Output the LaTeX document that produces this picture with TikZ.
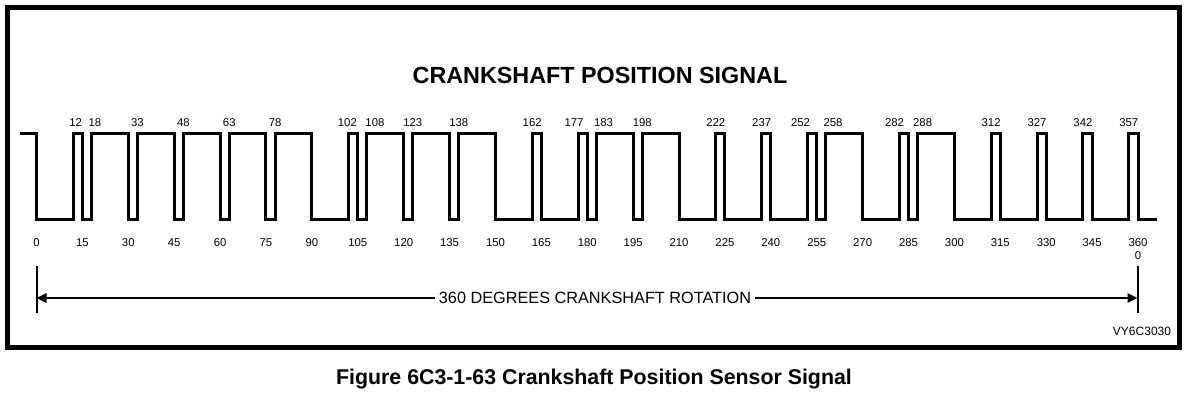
\documentclass[tikz,border=0pt]{standalone}
\usepackage{fontspec}
\setmainfont{Liberation Sans}
\usetikzlibrary{arrows.meta}
\begin{document}
\begin{tikzpicture}[x=0.75pt,y=-0.75pt,
  frame/.style={line width=3.75pt},
  signal/.style={line width=2.25pt,line join=miter},
  toplbl/.style={font=\fontsize{8.5pt}{9pt}\selectfont,inner sep=0pt},
  botlbl/.style={font=\fontsize{8.5pt}{9pt}\selectfont,inner sep=0pt},
  dimline/.style={line width=1.5pt,-{Triangle[length=7.5pt,width=7pt]}},
  tickline/.style={line width=1.5pt}]
\useasboundingbox (0,0) rectangle (1200,414);
\draw[frame] (7,7.5) rectangle (1179.5,347);
\node[font=\bfseries\fontsize{17.5pt}{18pt}\selectfont,inner sep=0pt] (title) at (600,75) {CRANKSHAFT POSITION SIGNAL};
% waveform, x in degrees
\begin{scope}[shift={(36.5,0)},x=2.2948pt]
\draw[signal] (-5.4,133) -| (0,219) -| (12,133) -| (15,219) -| (18,133)
  -| (30,219) -| (33,133) -| (45,219) -| (48,133) -| (60,219) -| (63,133)
  -| (75,219) -| (78,133) -| (90,219) -| (102,133) -| (105,219) -| (108,133)
  -| (120,219) -| (123,133) -| (135,219) -| (138,133) -| (150,219) -| (162,133)
  -| (165,219) -| (177,133) -| (180,219) -| (183,133) -| (195,219) -| (198,133)
  -| (210,219) -| (222,133) -| (225,219) -| (237,133) -| (240,219) -| (252,133)
  -| (255,219) -| (258,133) -| (270,219) -| (282,133) -| (285,219) -| (288,133)
  -| (300,219) -| (312,133) -| (315,219) -| (327,133) -| (330,219) -| (342,133)
  -| (345,219) -| (357,133) -| (360,219) -- (366.2,219);
\foreach \d/\o in {12/0.8,18/1.1,33/0,48/0,63/0,78/0,102/-0.4,108/2.6,123/0,138/0,162/0,177/-1.3,183/2.3,198/0,222/0,237/0,252/-2.3,258/2.3,282/-1.6,288/1.6,312/0,327/0,342/0,357/0}
  \node[toplbl] (t\d) at (\d+\o,123) {\d};
\foreach \d in {0,15,...,360}
  \node[botlbl] (b\d) at (\d,243) {\d};
\node[botlbl] (bzero) at (360,256) {0};
\end{scope}
% rotation dimension
\coordinate (L) at (36.5,298);
\coordinate (R) at (1137.5,298);
\coordinate (Lt) at (36.5,266);
\coordinate (Lb) at (36.5,313);
\coordinate (Rt) at (1137.5,266);
\coordinate (Rb) at (1137.5,313);
\draw[tickline] (Lt) -- (Lb);
\draw[tickline] (Rt) -- (Rb);
\node[font=\fontsize{12.2pt}{13pt}\selectfont,fill=white,inner sep=3pt] (rot) at (595,298) {360 DEGREES CRANKSHAFT ROTATION};
\draw[dimline] (rot.west) -- (L);
\draw[dimline] (rot.east) -- (R);
\node[font=\fontsize{9pt}{10pt}\selectfont,inner sep=0pt] (code) at (1142,331) {VY6C3030};
\node[font=\bfseries\fontsize{16pt}{17pt}\selectfont,inner sep=0pt] (cap) at (594,379) {Figure 6C3-1-63 Crankshaft Position Sensor Signal};
\end{tikzpicture}
\end{document}
